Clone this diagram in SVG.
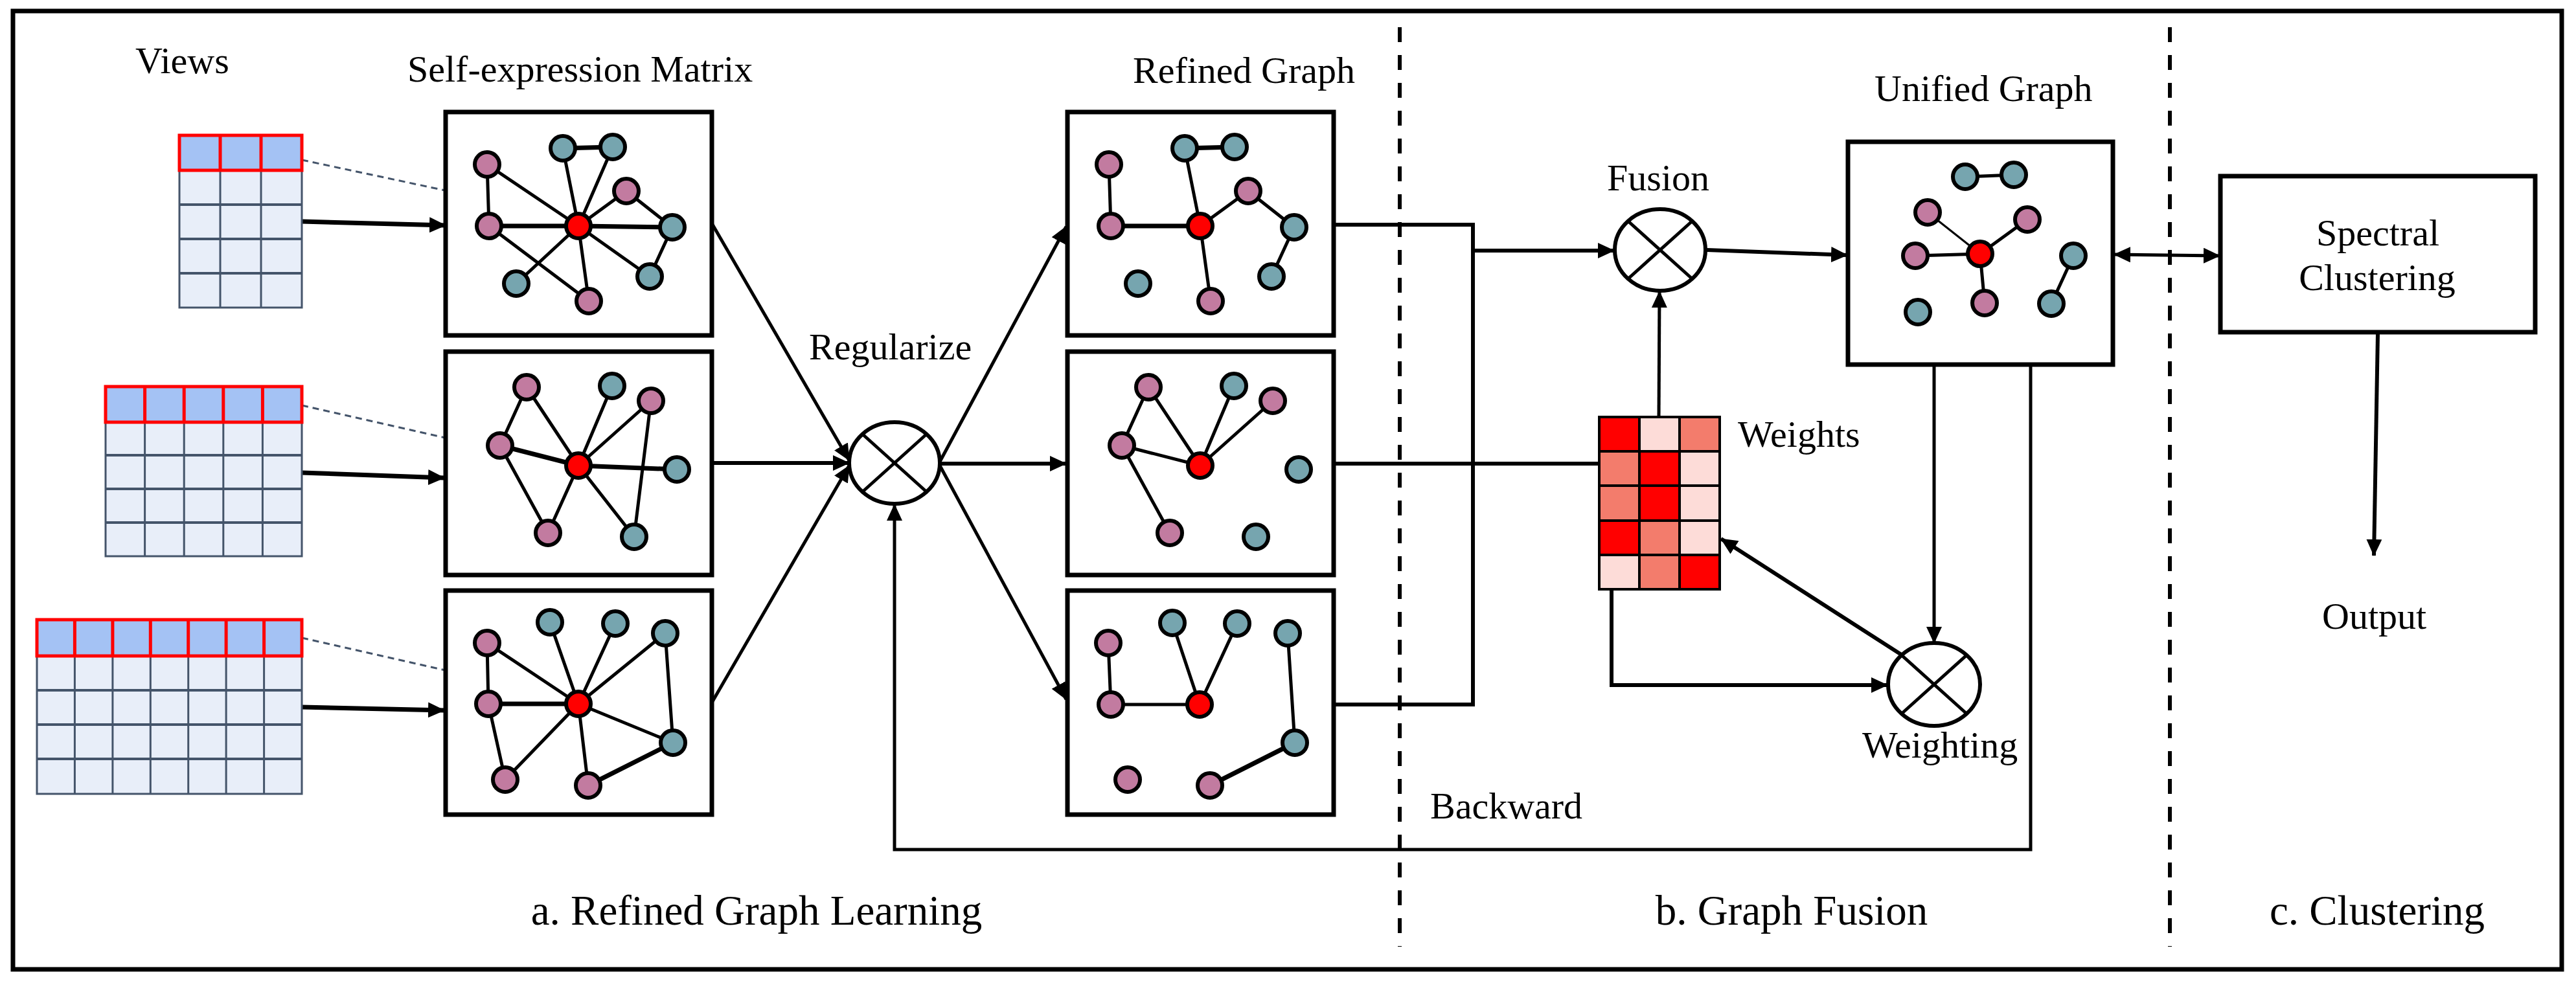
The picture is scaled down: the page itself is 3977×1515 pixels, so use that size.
<svg xmlns="http://www.w3.org/2000/svg" width="3977" height="1515" viewBox="0 0 3977 1515">
<style>
text{font-family:"Liberation Serif","Times New Roman",serif;fill:#000}
.lbl{font-size:58px}
.sec{font-size:65px}
.box{fill:#fff;stroke:#000;stroke-width:7}
.e{stroke:#000;stroke-width:5;stroke-linecap:round}
.e7{stroke:#000;stroke-width:7;stroke-linecap:round}
.e3{stroke:#000;stroke-width:3}
.p{fill:#c27ba0;stroke:#000;stroke-width:6}
.t{fill:#76a5af;stroke:#000;stroke-width:6}
.r{fill:#ff0000;stroke:#000;stroke-width:6}
.body{fill:#e8eef9;stroke:#44546a;stroke-width:3}
.gl{stroke:#44546a;stroke-width:4}
.gv{stroke:#44546a;stroke-width:3}
.hdr{fill:#a4c2f4;stroke:#ff0000;stroke-width:5}
.hv{stroke:#ff0000;stroke-width:5}
.dash{stroke:#44546a;stroke-width:3;stroke-dasharray:10 7;fill:none}
.op{fill:#fff;stroke:#000;stroke-width:6}
.x{stroke:#000;stroke-width:5}
.c{fill:none;stroke:#000;stroke-width:5}
.c6{fill:none;stroke:#000;stroke-width:6}
.c7{fill:none;stroke:#000;stroke-width:7}
.div{stroke:#000;stroke-width:6;stroke-dasharray:23 20}
.w{stroke:#000;stroke-width:4}
</style>
<defs>
<marker id="ah" viewBox="0 0 26 24" markerWidth="26" markerHeight="24" refX="25" refY="12" orient="auto-start-reverse" markerUnits="userSpaceOnUse">
<path d="M0,0 L26,12 L0,24 z" fill="#000"/>
</marker>
</defs>
<rect x="20" y="17" width="3935" height="1480" fill="#fff" stroke="#000" stroke-width="7"/>
<g id="dividers">
<line class="div" x1="2161" y1="42" x2="2161" y2="1462"/>
<line class="div" x1="3350" y1="42" x2="3350" y2="1462"/>
</g>
<g id="labels">
<text class="lbl" x="209" y="113">Views</text>
<text class="lbl" x="629" y="126">Self-expression Matrix</text>
<text class="lbl" x="1749" y="128">Refined Graph</text>
<text class="lbl" x="1249" y="555">Regularize</text>
<text class="lbl" x="2481" y="294">Fusion</text>
<text class="lbl" x="2894" y="156">Unified Graph</text>
<text class="lbl" x="2683" y="690">Weights</text>
<text class="lbl" x="2875" y="1170">Weighting</text>
<text class="lbl" x="2208" y="1264">Backward</text>
<text class="lbl" x="3585" y="971">Output</text>
<text class="sec" x="1168" y="1428" text-anchor="middle">a. Refined Graph Learning</text>
<text class="sec" x="2766" y="1428" text-anchor="middle">b. Graph Fusion</text>
<text class="sec" x="3670" y="1428" text-anchor="middle">c. Clustering</text>
</g>
<g id="connectors">
<line class="c7" x1="466" y1="342" x2="688" y2="348" marker-end="url(#ah)"/>
<line class="c7" x1="466" y1="730" x2="686" y2="738" marker-end="url(#ah)"/>
<line class="c7" x1="466" y1="1092" x2="686" y2="1097" marker-end="url(#ah)"/>
<line class="dash" x1="466" y1="247" x2="880" y2="335"/>
<line class="dash" x1="466" y1="626" x2="873" y2="718"/>
<line class="dash" x1="466" y1="985" x2="873" y2="1077"/>
<line class="c" x1="1099" y1="345" x2="1311" y2="711" marker-end="url(#ah)"/>
<line class="c6" x1="1099" y1="715" x2="1311" y2="715" marker-end="url(#ah)"/>
<line class="c" x1="1099" y1="1085" x2="1311" y2="719" marker-end="url(#ah)"/>
<line class="c" x1="1451" y1="713" x2="1646" y2="350" marker-end="url(#ah)"/>
<line class="c6" x1="1451" y1="716" x2="1646" y2="716" marker-end="url(#ah)"/>
<line class="c" x1="1451" y1="719" x2="1646" y2="1080" marker-end="url(#ah)"/>
<path class="c" d="M3135,563 V1312 H1381 V779" marker-end="url(#ah)"/>
<path class="c6" d="M2059,347 H2274 V1088 H2059"/>
<line class="c6" x1="2274" y1="387" x2="2492" y2="387" marker-end="url(#ah)"/>
<line class="c6" x1="2059" y1="716" x2="2469" y2="716"/>
<line class="c" x1="2561" y1="644" x2="2562" y2="450" marker-end="url(#ah)"/>
<line class="c6" x1="2635" y1="386" x2="2852" y2="394" marker-end="url(#ah)"/>
<line class="c" x1="2986" y1="563" x2="2986" y2="993" marker-end="url(#ah)"/>
<path class="c6" d="M2488,910 V1058 H2914" marker-end="url(#ah)"/>
<line class="c6" x1="2937" y1="1012" x2="2657" y2="832" marker-end="url(#ah)"/>
<line class="c" x1="3264" y1="393" x2="3427" y2="395" marker-start="url(#ah)" marker-end="url(#ah)"/>
<line class="c6" x1="3671" y1="515" x2="3665" y2="858" marker-end="url(#ah)"/>
</g>
<g id="view1">
<rect class="body" x="277" y="263" width="189" height="212"/>
<line class="gl" x1="277" y1="316" x2="466" y2="316"/><line class="gl" x1="277" y1="369" x2="466" y2="369"/><line class="gl" x1="277" y1="422" x2="466" y2="422"/>
<line class="gv" x1="340" y1="263" x2="340" y2="475"/><line class="gv" x1="403" y1="263" x2="403" y2="475"/>
<rect class="hdr" x="277" y="209" width="189" height="54"/>
<line class="hv" x1="340" y1="209" x2="340" y2="263"/><line class="hv" x1="403" y1="209" x2="403" y2="263"/>
</g>
<g id="view2">
<rect class="body" x="163" y="652" width="303" height="207"/>
<line class="gl" x1="163" y1="703" x2="466" y2="703"/><line class="gl" x1="163" y1="755" x2="466" y2="755"/><line class="gl" x1="163" y1="807" x2="466" y2="807"/>
<line class="gv" x1="223.6" y1="652" x2="223.6" y2="859"/><line class="gv" x1="284.2" y1="652" x2="284.2" y2="859"/><line class="gv" x1="344.8" y1="652" x2="344.8" y2="859"/><line class="gv" x1="405.4" y1="652" x2="405.4" y2="859"/>
<rect class="hdr" x="163" y="597" width="303" height="55"/>
<line class="hv" x1="223.6" y1="597" x2="223.6" y2="652"/><line class="hv" x1="284.2" y1="597" x2="284.2" y2="652"/><line class="hv" x1="344.8" y1="597" x2="344.8" y2="652"/><line class="hv" x1="405.4" y1="597" x2="405.4" y2="652"/>
</g>
<g id="view3">
<rect class="body" x="57" y="1013" width="409" height="213"/>
<line class="gl" x1="57" y1="1066" x2="466" y2="1066"/><line class="gl" x1="57" y1="1119" x2="466" y2="1119"/><line class="gl" x1="57" y1="1172" x2="466" y2="1172"/>
<line class="gv" x1="115.4" y1="1013" x2="115.4" y2="1226"/><line class="gv" x1="173.9" y1="1013" x2="173.9" y2="1226"/><line class="gv" x1="232.3" y1="1013" x2="232.3" y2="1226"/><line class="gv" x1="290.7" y1="1013" x2="290.7" y2="1226"/><line class="gv" x1="349.1" y1="1013" x2="349.1" y2="1226"/><line class="gv" x1="407.6" y1="1013" x2="407.6" y2="1226"/>
<rect class="hdr" x="57" y="957" width="409" height="56"/>
<line class="hv" x1="115.4" y1="957" x2="115.4" y2="1013"/><line class="hv" x1="173.9" y1="957" x2="173.9" y2="1013"/><line class="hv" x1="232.3" y1="957" x2="232.3" y2="1013"/><line class="hv" x1="290.7" y1="957" x2="290.7" y2="1013"/><line class="hv" x1="349.1" y1="957" x2="349.1" y2="1013"/><line class="hv" x1="407.6" y1="957" x2="407.6" y2="1013"/>
</g>
<g id="self-expression-1">
<rect class="box" x="688" y="173" width="411" height="345"/>
<line class="e7" x1="869" y1="229" x2="946" y2="227"/><line class="e" x1="869" y1="229" x2="893" y2="349"/><line class="e" x1="946" y1="227" x2="893" y2="349"/>
<line class="e" x1="752" y1="254" x2="755" y2="349"/><line class="e" x1="752" y1="254" x2="893" y2="349"/><line class="e" x1="967" y1="295" x2="893" y2="349"/><line class="e" x1="967" y1="295" x2="1038" y2="351"/>
<line class="e7" x1="755" y1="349" x2="893" y2="349"/><line class="e7" x1="893" y1="349" x2="1038" y2="351"/><line class="e" x1="1038" y1="351" x2="1003" y2="427"/>
<line class="e" x1="893" y1="349" x2="1003" y2="427"/><line class="e" x1="893" y1="349" x2="797" y2="438"/><line class="e" x1="755" y1="349" x2="909" y2="465"/><line class="e" x1="893" y1="349" x2="909" y2="465"/>
<circle class="t" cx="869" cy="229" r="19"/><circle class="t" cx="946" cy="227" r="19"/><circle class="p" cx="752" cy="254" r="19"/><circle class="p" cx="967" cy="295" r="19"/>
<circle class="p" cx="755" cy="349" r="19"/><circle class="r" cx="893" cy="349" r="19"/><circle class="t" cx="1038" cy="351" r="19"/><circle class="t" cx="1003" cy="427" r="19"/>
<circle class="t" cx="797" cy="438" r="19"/><circle class="p" cx="909" cy="465" r="19"/>
</g>
<g id="self-expression-2">
<rect class="box" x="688" y="543" width="411" height="345"/>
<line class="e" x1="813" y1="598" x2="772" y2="688"/><line class="e" x1="813" y1="598" x2="893" y2="719"/><line class="e" x1="945" y1="596" x2="893" y2="719"/><line class="e" x1="1005" y1="619" x2="893" y2="719"/>
<line class="e" x1="1005" y1="619" x2="979" y2="829"/><line class="e7" x1="772" y1="688" x2="893" y2="719"/><line class="e7" x1="893" y1="719" x2="1045" y2="725"/><line class="e" x1="772" y1="688" x2="846" y2="823"/>
<line class="e" x1="893" y1="719" x2="846" y2="823"/><line class="e" x1="893" y1="719" x2="979" y2="829"/>
<circle class="p" cx="813" cy="598" r="19"/><circle class="t" cx="945" cy="596" r="19"/><circle class="p" cx="1005" cy="619" r="19"/><circle class="p" cx="772" cy="688" r="19"/>
<circle class="r" cx="893" cy="719" r="19"/><circle class="t" cx="1045" cy="725" r="19"/><circle class="p" cx="846" cy="823" r="19"/><circle class="t" cx="979" cy="829" r="19"/>
</g>
<g id="self-expression-3">
<rect class="box" x="688" y="912" width="411" height="346"/>
<line class="e" x1="752" y1="993" x2="754" y2="1087"/><line class="e" x1="752" y1="993" x2="893" y2="1087"/><line class="e" x1="849" y1="961" x2="893" y2="1087"/><line class="e" x1="950" y1="963" x2="893" y2="1087"/>
<line class="e" x1="1027" y1="978" x2="893" y2="1087"/><line class="e" x1="1027" y1="978" x2="1039" y2="1147"/><line class="e7" x1="754" y1="1087" x2="893" y2="1087"/><line class="e" x1="893" y1="1087" x2="1039" y2="1147"/>
<line class="e7" x1="1039" y1="1147" x2="908" y2="1213"/><line class="e" x1="754" y1="1087" x2="780" y2="1204"/><line class="e" x1="893" y1="1087" x2="780" y2="1204"/><line class="e" x1="893" y1="1087" x2="908" y2="1213"/>
<circle class="p" cx="752" cy="993" r="19"/><circle class="t" cx="849" cy="961" r="19"/><circle class="t" cx="950" cy="963" r="19"/><circle class="t" cx="1027" cy="978" r="19"/>
<circle class="p" cx="754" cy="1087" r="19"/><circle class="r" cx="893" cy="1087" r="19"/><circle class="t" cx="1039" cy="1147" r="19"/><circle class="p" cx="780" cy="1204" r="19"/><circle class="p" cx="908" cy="1213" r="19"/>
</g>
<g id="regularize">
<ellipse class="op" cx="1381" cy="715" rx="70" ry="63"/>
<line class="x" x1="1331" y1="670" x2="1431" y2="760"/><line class="x" x1="1431" y1="670" x2="1331" y2="760"/>
</g>
<g id="refined-1">
<rect class="box" x="1648" y="173" width="411" height="345"/>
<line class="e7" x1="1829" y1="229" x2="1906" y2="227"/><line class="e" x1="1829" y1="229" x2="1853" y2="349"/><line class="e" x1="1712" y1="254" x2="1715" y2="349"/>
<line class="e7" x1="1715" y1="349" x2="1853" y2="349"/><line class="e" x1="1853" y1="349" x2="1927" y2="295"/><line class="e" x1="1927" y1="295" x2="1998" y2="351"/><line class="e" x1="1998" y1="351" x2="1963" y2="427"/><line class="e" x1="1853" y1="349" x2="1869" y2="465"/>
<circle class="t" cx="1829" cy="229" r="19"/><circle class="t" cx="1906" cy="227" r="19"/><circle class="p" cx="1712" cy="254" r="19"/><circle class="p" cx="1927" cy="295" r="19"/>
<circle class="p" cx="1715" cy="349" r="19"/><circle class="r" cx="1853" cy="349" r="19"/><circle class="t" cx="1998" cy="351" r="19"/><circle class="t" cx="1963" cy="427" r="19"/>
<circle class="t" cx="1757" cy="438" r="19"/><circle class="p" cx="1869" cy="465" r="19"/>
</g>
<g id="refined-2">
<rect class="box" x="1648" y="543" width="411" height="345"/>
<line class="e" x1="1773" y1="598" x2="1732" y2="688"/><line class="e" x1="1773" y1="598" x2="1853" y2="719"/><line class="e" x1="1905" y1="596" x2="1853" y2="719"/><line class="e" x1="1965" y1="619" x2="1853" y2="719"/>
<line class="e" x1="1732" y1="688" x2="1853" y2="719"/><line class="e" x1="1732" y1="688" x2="1806" y2="823"/>
<circle class="p" cx="1773" cy="598" r="19"/><circle class="t" cx="1905" cy="596" r="19"/><circle class="p" cx="1965" cy="619" r="19"/><circle class="p" cx="1732" cy="688" r="19"/>
<circle class="r" cx="1853" cy="719" r="19"/><circle class="t" cx="2005" cy="725" r="19"/><circle class="p" cx="1806" cy="823" r="19"/><circle class="t" cx="1939" cy="829" r="19"/>
</g>
<g id="refined-3">
<rect class="box" x="1648" y="912" width="411" height="346"/>
<line class="e" x1="1711" y1="993" x2="1715" y2="1088"/><line class="e" x1="1715" y1="1088" x2="1852" y2="1088"/><line class="e" x1="1810" y1="962" x2="1852" y2="1088"/><line class="e" x1="1910" y1="963" x2="1852" y2="1088"/>
<line class="e" x1="1988" y1="978" x2="1999" y2="1147"/><line class="e7" x1="1999" y1="1147" x2="1868" y2="1213"/>
<circle class="p" cx="1711" cy="993" r="19"/><circle class="t" cx="1810" cy="962" r="19"/><circle class="t" cx="1910" cy="963" r="19"/><circle class="t" cx="1988" cy="978" r="19"/>
<circle class="p" cx="1715" cy="1088" r="19"/><circle class="r" cx="1852" cy="1088" r="19"/><circle class="t" cx="1999" cy="1147" r="19"/><circle class="p" cx="1741" cy="1204" r="19"/><circle class="p" cx="1868" cy="1213" r="19"/>
</g>
<g id="fusion">
<ellipse class="op" cx="2563" cy="386" rx="70" ry="63"/>
<line class="x" x1="2513" y1="341" x2="2613" y2="431"/><line class="x" x1="2613" y1="341" x2="2513" y2="431"/>
</g>
<g id="weights">
<rect x="2469" y="644" width="62" height="53" fill="#ff0000"/><rect x="2531" y="644" width="62" height="53" fill="#fddcd8"/><rect x="2593" y="644" width="62" height="53" fill="#f37c6c"/>
<rect x="2469" y="697" width="62" height="53" fill="#f37c6c"/><rect x="2531" y="697" width="62" height="53" fill="#ff0000"/><rect x="2593" y="697" width="62" height="53" fill="#fddcd8"/>
<rect x="2469" y="750" width="62" height="54" fill="#f37c6c"/><rect x="2531" y="750" width="62" height="54" fill="#ff0000"/><rect x="2593" y="750" width="62" height="54" fill="#fddcd8"/>
<rect x="2469" y="804" width="62" height="53" fill="#ff0000"/><rect x="2531" y="804" width="62" height="53" fill="#f37c6c"/><rect x="2593" y="804" width="62" height="53" fill="#fddcd8"/>
<rect x="2469" y="857" width="62" height="53" fill="#fddcd8"/><rect x="2531" y="857" width="62" height="53" fill="#f37c6c"/><rect x="2593" y="857" width="62" height="53" fill="#ff0000"/>
<rect x="2469" y="644" width="186" height="266" fill="none" stroke="#000" stroke-width="4"/>
<line class="w" x1="2531" y1="644" x2="2531" y2="910"/><line class="w" x1="2593" y1="644" x2="2593" y2="910"/>
<line class="w" x1="2469" y1="697" x2="2655" y2="697"/><line class="w" x1="2469" y1="750" x2="2655" y2="750"/><line class="w" x1="2469" y1="804" x2="2655" y2="804"/><line class="w" x1="2469" y1="857" x2="2655" y2="857"/>
</g>
<g id="unified">
<rect class="box" x="2853" y="219" width="409" height="344"/>
<line class="e" x1="3034" y1="273" x2="3109" y2="270"/><line class="e3" x1="2976" y1="328" x2="3057" y2="392"/><line class="e" x1="3130" y1="339" x2="3057" y2="392"/>
<line class="e" x1="2957" y1="395" x2="3057" y2="392"/><line class="e" x1="3057" y1="392" x2="3064" y2="468"/><line class="e" x1="3201" y1="395" x2="3167" y2="469"/>
<circle class="t" cx="3034" cy="273" r="19"/><circle class="t" cx="3109" cy="270" r="19"/><circle class="p" cx="2976" cy="328" r="19"/><circle class="p" cx="3130" cy="339" r="19"/>
<circle class="p" cx="2957" cy="395" r="19"/><circle class="r" cx="3057" cy="392" r="19"/><circle class="t" cx="3201" cy="395" r="19"/>
<circle class="t" cx="2961" cy="482" r="19"/><circle class="p" cx="3064" cy="468" r="19"/><circle class="t" cx="3167" cy="469" r="19"/>
</g>
<g id="weighting">
<ellipse class="op" cx="2986" cy="1057" rx="71" ry="64"/>
<line class="x" x1="2936" y1="1012" x2="3036" y2="1102"/><line class="x" x1="3036" y1="1012" x2="2936" y2="1102"/>
</g>
<g id="spectral">
<rect class="box" x="3428" y="272" width="486" height="241"/>
<text class="lbl" x="3671" y="379" text-anchor="middle">Spectral</text>
<text class="lbl" x="3670" y="448" text-anchor="middle">Clustering</text>
</g>
</svg>
